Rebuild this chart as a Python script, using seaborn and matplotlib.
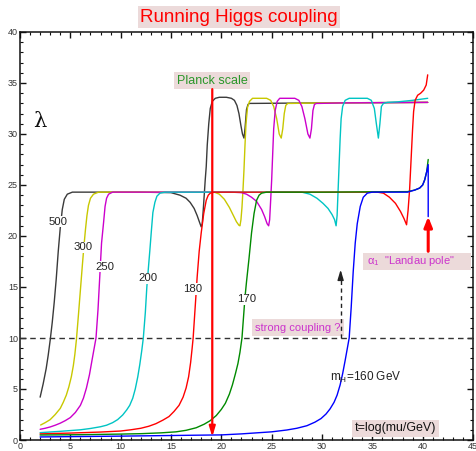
import matplotlib
matplotlib.use("Agg")
import matplotlib.pyplot as plt
import matplotlib.ticker as mticker
from matplotlib.patches import Rectangle
import seaborn as sns

# ── Data ─────────────────────────────────────────────────────────────────────

t_500 = [2.0, 2.3, 2.6, 2.8, 3.0, 3.2, 3.4, 3.6, 3.8, 4.0, 4.2, 4.4, 4.7, 5.2,
         8.0, 12.0, 15.0, 15.9, 16.5, 16.9, 17.3, 17.6, 17.85, 18.0, 18.1,
         18.2, 18.3, 18.4, 18.5, 18.6, 18.75, 18.9, 19.1, 19.4, 19.8, 20.5,
         21.0, 21.3, 21.55, 21.75, 21.95, 22.1, 22.25, 22.35, 22.5, 22.65,
         22.8, 23.2, 30.0, 40.5]
lam_500 = [4.2, 5.5, 7.0, 8.3, 9.8, 11.5, 13.5, 15.8, 18.5, 20.8, 22.6, 23.6,
           24.1, 24.3, 24.3, 24.3, 24.25, 24.0, 23.7, 23.3, 22.7, 22.0, 21.3,
           20.9, 21.2, 22.5, 24.0, 25.5, 26.8, 28.9, 31.0, 32.5, 33.2, 33.5,
           33.6, 33.6, 33.5, 33.3, 32.8, 32.0, 30.8, 30.0, 29.6, 30.5, 32.4,
           32.9, 33.0, 33.0, 33.05, 33.1]

t_300 = [2.05, 2.5, 3.0, 3.5, 4.0, 4.3, 4.6, 4.85, 5.1, 5.3, 5.45, 5.6, 5.8,
         6.0, 6.2, 6.35, 6.5, 6.65, 6.8, 7.0, 7.3, 7.8, 12.0, 19.3, 19.8, 20.3,
         20.8, 21.2, 21.5, 21.75, 21.85, 21.95, 22.05, 22.15, 22.25, 22.35,
         22.45, 22.6, 22.8, 23.1, 23.6, 24.5, 24.9, 25.2, 25.5, 25.75, 25.95,
         26.1, 26.25, 26.4, 26.6, 27.0, 30.0, 40.5]
lam_300 = [1.47, 1.7, 2.0, 2.5, 3.1, 3.7, 4.4, 5.2, 6.2, 7.3, 8.4, 9.8, 12.2,
           14.7, 17.2, 19.0, 20.6, 22.0, 23.0, 23.7, 24.1, 24.3, 24.3, 24.3,
           24.1, 23.6, 22.8, 22.0, 21.4, 21.05, 21.0, 21.6, 22.8, 24.5, 26.5,
           28.9, 31.0, 32.6, 33.2, 33.5, 33.5, 33.5, 33.3, 32.7, 31.5, 30.0,
           29.6, 30.5, 32.0, 32.8, 33.0, 33.0, 33.05, 33.1]

t_250 = [2.0, 2.5, 3.0, 3.5, 4.0, 4.5, 5.0, 5.5, 6.0, 6.3, 6.6, 6.9, 7.15,
         7.35, 7.55, 7.75, 7.95, 8.1, 8.3, 8.45, 8.6, 8.8, 9.2, 10.0, 21.0,
         22.0, 22.5, 23.0, 23.5, 24.0, 24.3, 24.55, 24.7, 24.8, 24.9, 25.0,
         25.1, 25.2, 25.35, 25.55, 25.8, 26.3, 27.3, 27.7, 28.0, 28.3, 28.6,
         28.8, 28.95, 29.1, 29.25, 29.45, 29.8, 32.0, 40.5]
lam_250 = [1.05, 1.15, 1.28, 1.45, 1.65, 1.9, 2.2, 2.7, 3.4, 4.1, 5.1, 6.4,
           7.8, 8.9, 10.0, 12.8, 16.5, 19.3, 21.3, 22.9, 23.7, 24.1, 24.3,
           24.3, 24.3, 24.25, 24.1, 23.8, 23.4, 22.6, 21.9, 21.2, 21.0, 21.6,
           23.5, 25.5, 28.0, 30.5, 32.3, 33.2, 33.5, 33.5, 33.5, 33.3, 32.7,
           31.5, 30.0, 29.6, 30.5, 32.3, 32.9, 33.0, 33.0, 33.05, 33.1]

t_200 = [2.0, 4.0, 6.0, 7.0, 8.0, 8.6, 9.2, 9.7, 10.2, 10.6, 10.9, 11.2, 11.45,
         11.7, 11.9, 12.1, 12.25, 12.45, 12.6, 12.75, 12.9, 13.05, 13.2, 13.4,
         13.6, 13.9, 14.4, 20.0, 28.0, 28.8, 29.5, 30.1, 30.6, 31.0, 31.25,
         31.4, 31.5, 31.6, 31.7, 31.8, 31.9, 32.05, 32.3, 32.7, 33.5, 34.5,
         34.9, 35.2, 35.4, 35.6, 35.75, 35.9, 36.1, 36.5, 37.5, 39.0, 40.5]
lam_200 = [0.72, 0.85, 1.0, 1.13, 1.3, 1.45, 1.7, 2.0, 2.45, 2.95, 3.4, 4.1,
           5.0, 6.2, 7.4, 8.8, 10.0, 12.5, 15.0, 16.8, 18.6, 20.5, 22.3, 23.3,
           23.9, 24.2, 24.3, 24.3, 24.3, 24.1, 23.7, 23.2, 22.7, 22.1, 21.6,
           21.0, 22.0, 24.5, 27.0, 29.5, 31.5, 32.7, 33.3, 33.5, 33.5, 33.5,
           33.3, 32.5, 31.0, 29.6, 31.0, 32.7, 33.0, 33.1, 33.15, 33.3, 33.5]

t_180 = [2.0, 5.0, 8.0, 10.0, 11.0, 12.0, 12.8, 13.5, 14.2, 14.8, 15.3, 15.8,
         16.2, 16.5, 16.75, 16.95, 17.1, 17.2, 17.4, 17.6, 17.8, 18.0, 18.25,
         18.5, 18.7, 18.9, 19.3, 20.0, 35.5, 36.1, 36.7, 37.3, 37.8, 38.15,
         38.4, 38.55, 38.7, 38.8, 38.9, 39.0, 39.1, 39.25, 39.5, 39.8, 40.1,
         40.35, 40.5]
lam_180 = [0.6, 0.68, 0.78, 0.88, 1.0, 1.15, 1.35, 1.6, 1.95, 2.3, 2.8, 3.4,
           4.2, 5.1, 6.2, 7.6, 9.0, 10.0, 13.0, 16.0, 18.5, 20.3, 22.2, 23.5,
           24.0, 24.2, 24.3, 24.3, 24.3, 24.2, 23.8, 23.2, 22.4, 21.7, 21.1,
           22.5, 24.5, 26.5, 28.5, 30.5, 32.2, 33.3, 33.8, 34.0, 34.3, 34.8,
           35.8]

t_170 = [2.0, 6.0, 10.0, 12.0, 14.0, 15.5, 16.5, 17.5, 18.3, 18.9, 19.5, 20.0,
         20.4, 20.8, 21.1, 21.4, 21.65, 21.85, 22.05, 22.2, 22.35, 22.5,
         22.75, 23.0, 23.25, 23.5, 23.75, 24.0, 24.5, 30.0, 38.5, 39.2, 39.7,
         40.0, 40.2, 40.4, 40.55]
lam_170 = [0.49, 0.52, 0.58, 0.62, 0.7, 0.8, 0.95, 1.2, 1.55, 1.9, 2.4, 3.0,
           3.6, 4.5, 5.4, 6.5, 7.5, 8.6, 10.0, 12.0, 14.0, 15.5, 17.8, 20.3,
           22.2, 23.5, 24.0, 24.2, 24.3, 24.3, 24.35, 24.5, 24.7, 25.0, 25.5,
           26.3, 27.5]

t_160 = [2.0, 10.0, 20.0, 22.0, 25.0, 26.5, 27.5, 28.5, 29.3, 29.9, 30.4, 30.8,
         31.2, 31.5, 31.8, 32.05, 32.3, 32.5, 32.7, 32.9, 33.1, 33.3, 33.5,
         33.8, 34.1, 34.5, 35.0, 36.0, 38.5, 39.2, 39.7, 40.0, 40.2, 40.4,
         40.55, 40.55]
lam_160 = [0.3, 0.38, 0.5, 0.6, 0.8, 0.98, 1.15, 1.4, 1.75, 2.1, 2.55, 3.05,
           3.7, 4.4, 5.4, 6.5, 7.8, 8.9, 10.0, 13.0, 16.5, 19.3, 21.2, 22.9,
           23.8, 24.2, 24.3, 24.3, 24.3, 24.5, 24.7, 25.0, 25.5, 26.3, 27.0,
           21.9]

CURVES = [
    ("500", t_500, lam_500, "#3a3a3a"),
    ("300", t_300, lam_300, "#c8c800"),
    ("250", t_250, lam_250, "#cc00cc"),
    ("200", t_200, lam_200, "#00c4c4"),
    ("180", t_180, lam_180, "#ff0000"),
    ("170", t_170, lam_170, "#008a00"),
    ("160", t_160, lam_160, "#0000ff"),
]

# curve label positions (t, lambda)
mass_labels = ["500", "300", "250", "200", "180", "170"]
label_t = [3.77, 6.3, 8.4, 12.7, 17.15, 22.5]
label_lam = [21.4, 18.9, 17.0, 15.85, 14.8, 13.8]

t_planck = 19.1
lam_strong = 10.0
t_landau = 40.55

# ── Style ────────────────────────────────────────────────────────────────────

sns.set_theme(style="ticks")
plt.rcParams["font.family"] = ["Liberation Sans", "DejaVu Sans"]
BOX = "#ecdada"

fig = plt.figure(figsize=(4.77, 4.51), dpi=100)
ax = fig.add_axes([20 / 477, 11 / 451, 453 / 477, 408 / 451])

for name, t, lam, color in CURVES:
    sns.lineplot(x=t, y=lam, sort=False, estimator=None, color=color,
                 lw=1.0, ax=ax)

# strong coupling line
ax.axhline(lam_strong, color="#333333", lw=1.0, ls=(0, (4, 3)), zorder=3)

# Planck scale arrow
ax.annotate("", xy=(t_planck, 0.3), xytext=(t_planck, 34.4),
            arrowprops=dict(arrowstyle="-|>,head_length=0.5,head_width=0.15",
                            color="#ff0000", lw=1.6, shrinkA=0, shrinkB=0),
            zorder=6)
ax.text(t_planck, 35.2, "Planck scale", color="#2a962a", fontsize=9,
        ha="center", va="center",
        bbox=dict(boxstyle="square,pad=0.2", fc=BOX, ec="none"))

# Landau pole arrow and label box
ax.annotate("", xy=(t_landau, 21.9), xytext=(t_landau, 18.5),
            arrowprops=dict(arrowstyle="-|>,head_length=0.5,head_width=0.2",
                            color="#ff0000", lw=2.2, shrinkA=0, shrinkB=0),
            zorder=6)
ax.add_patch(Rectangle((34.1, 16.7), 10.7, 1.65, fc=BOX, ec="none",
                       zorder=4))
ax.text(34.5, 17.5, r'$\mathregular{α_1}$  "Landau pole"', color="#cc33cc",
        fontsize=8, ha="left", va="center", zorder=5)

# strong coupling dashed arrow
ax.plot([31.85, 31.85], [lam_strong, 16.0], color="#222222", lw=1.0,
        ls=(0, (3, 2.5)), zorder=4)
ax.annotate("", xy=(31.85, 16.7), xytext=(31.85, 15.9),
            arrowprops=dict(arrowstyle="-|>,head_length=0.5,head_width=0.15",
                            color="#222222", lw=1.0, shrinkA=0, shrinkB=0))
ax.text(27.6, 11.0, "strong coupling ?", color="#cc33cc", fontsize=8,
        ha="center", va="center",
        bbox=dict(boxstyle="square,pad=0.3", fc=BOX, ec="none"))

# curve labels
for lab, x, y in zip(mass_labels, label_t, label_lam):
    ax.text(x, y, lab, fontsize=8.2, color="#222222", ha="center",
            va="center",
            bbox=dict(boxstyle="square,pad=0.05", fc="white", ec="none"))
ax.text(34.3, 6.1, r"$\mathregular{m_H}$=160 GeV", fontsize=8.5,
        color="#222222", ha="center", va="center")
ax.text(37.3, 1.15, "t=log(mu/GeV)", fontsize=9, color="#111111",
        ha="center", va="center",
        bbox=dict(boxstyle="square,pad=0.2", fc=BOX, ec="none"))
ax.text(2.0, 31.2, "λ", fontsize=15, color="#111111", ha="center",
        va="center", family=["DejaVu Serif"])

# axes
ax.set_xlim(0, 45)
ax.set_ylim(0, 40)
ax.xaxis.set_major_locator(mticker.MultipleLocator(5))
ax.xaxis.set_minor_locator(mticker.MultipleLocator(1))
ax.yaxis.set_major_locator(mticker.MultipleLocator(5))
ax.yaxis.set_minor_locator(mticker.MultipleLocator(1))
ax.tick_params(which="both", direction="in", top=True, right=True,
               labelsize=6.5, labelcolor="#333333", color="#111111")
ax.tick_params(which="major", length=4, width=1.0, pad=1.5)
ax.tick_params(which="minor", length=2, width=0.8)
for s in ax.spines.values():
    s.set_visible(True)
    s.set_color("#111111")
    s.set_linewidth(1.1)
ax.set_xlabel("")
ax.set_ylabel("")

fig.text(239 / 477, 1 - 17 / 451, "Running Higgs coupling", color="#ff0000",
         fontsize=13.5, ha="center", va="center",
         bbox=dict(boxstyle="square,pad=0.12", fc=BOX, ec="none"))

fig.savefig("out.png", dpi=100)
